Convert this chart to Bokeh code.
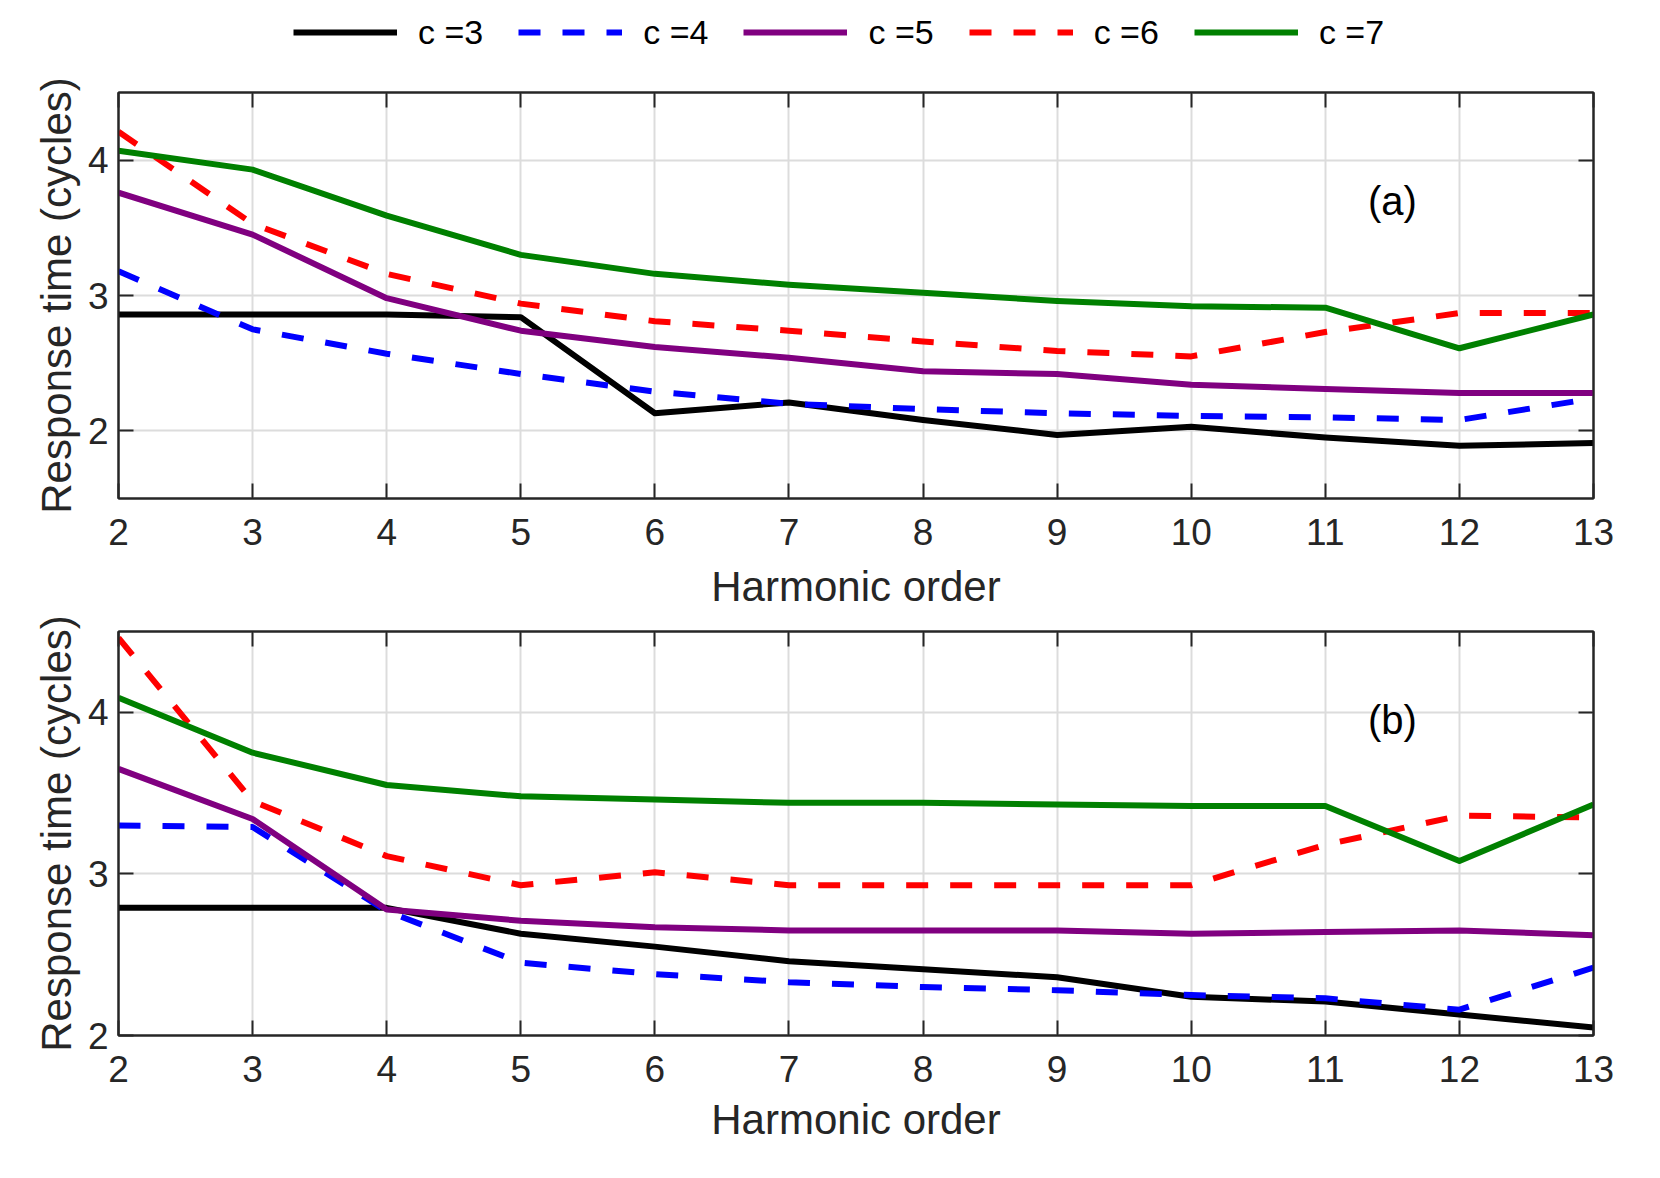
from bokeh.plotting import figure
from bokeh.models import (Range1d, FixedTicker, LinearAxis, Legend, LegendItem, Label)
from bokeh.layouts import column
from bokeh.embed import file_html
from bokeh.resources import INLINE

# ---- data ----
harmonic = [2, 3, 4, 5, 6, 7, 8, 9, 10, 11, 12, 13]
series_names = ["c =3", "c =4", "c =5", "c =6", "c =7"]

# panel (a)
c3_a = [2.86, 2.86, 2.86, 2.84, 2.13, 2.21, 2.08, 1.97, 2.03, 1.95, 1.89, 1.91]
c4_a = [3.18, 2.75, 2.57, 2.42, 2.29, 2.20, 2.16, 2.13, 2.11, 2.10, 2.08, 2.24]
c5_a = [3.76, 3.45, 2.98, 2.74, 2.62, 2.54, 2.44, 2.42, 2.34, 2.31, 2.28, 2.28]
c6_a = [4.21, 3.53, 3.16, 2.94, 2.81, 2.74, 2.66, 2.59, 2.55, 2.73, 2.87, 2.87]
c7_a = [4.07, 3.93, 3.59, 3.30, 3.16, 3.08, 3.02, 2.96, 2.92, 2.91, 2.61, 2.86]

# panel (b)
c3_b = [2.79, 2.79, 2.79, 2.63, 2.55, 2.46, 2.41, 2.36, 2.24, 2.21, 2.13, 2.05]
c4_b = [3.30, 3.29, 2.77, 2.45, 2.38, 2.33, 2.30, 2.28, 2.25, 2.23, 2.16, 2.42]
c5_b = [3.65, 3.34, 2.78, 2.71, 2.67, 2.65, 2.65, 2.65, 2.63, 2.64, 2.65, 2.62]
c6_b = [4.46, 3.45, 3.11, 2.93, 3.01, 2.93, 2.93, 2.93, 2.93, 3.18, 3.36, 3.35]
c7_b = [4.09, 3.75, 3.55, 3.48, 3.46, 3.44, 3.44, 3.43, 3.42, 3.42, 3.08, 3.43]

y_ticks = [2, 3, 4]
x_title = "Harmonic order"
y_title = "Response time (cycles)"

# ---- styles ----
colors = ["#000000", "#0000ff", "#800080", "#ff0000", "#008000"]
dashes = ["solid", "22 22", "solid", "22 22", "solid"]
FONT = "Liberation Sans"
TXT = "#262626"
W = 1650


def style_axis(ax, show_labels=True):
    ax.axis_line_color = TXT
    ax.axis_line_width = 2
    ax.major_tick_line_color = TXT
    ax.major_tick_line_width = 2
    ax.major_tick_in = 15
    ax.major_tick_out = 0
    ax.minor_tick_line_color = None
    ax.major_label_text_font = FONT
    ax.axis_label_text_font = FONT
    ax.axis_label_text_color = TXT
    ax.axis_label_text_font_style = "normal"
    ax.axis_label_text_font_size = "42px"
    if show_labels:
        ax.major_label_text_font_size = "37px"
        ax.major_label_text_color = TXT
    else:
        ax.major_label_text_font_size = "2px"
        ax.major_label_text_color = None
        ax.major_label_standoff = 0


def make_panel(series, y_lo, tag, tag_y, height, top_border, bottom_border,
               bottom_title, top_title):
    p = figure(width=W, height=height, output_backend="svg",
               toolbar_location=None,
               x_range=Range1d(2, 13), y_range=Range1d(y_lo, 4.5),
               min_border_left=118, min_border_right=57,
               min_border_top=top_border, min_border_bottom=bottom_border)
    p.background_fill_color = "white"
    p.border_fill_color = "white"
    p.outline_line_color = TXT
    p.outline_line_width = 2

    xt = FixedTicker(ticks=harmonic, minor_ticks=[])
    yt = FixedTicker(ticks=y_ticks, minor_ticks=[])
    p.xaxis.ticker = xt
    p.yaxis.ticker = yt
    if bottom_title:
        p.xaxis.axis_label = x_title
    p.yaxis.axis_label = y_title
    for ax in p.xaxis:
        style_axis(ax)
        ax.major_label_standoff = 20
        ax.axis_label_standoff = 11
    for ax in p.yaxis:
        style_axis(ax)
        ax.major_label_standoff = 10
        ax.axis_label_standoff = 5

    top_ax = LinearAxis(ticker=FixedTicker(ticks=harmonic, minor_ticks=[]))
    style_axis(top_ax, show_labels=False)
    if top_title:
        # x-axis title of the panel above, carried here so the tall y label fits
        top_ax.axis_label = x_title
        top_ax.axis_label_standoff = 22
    p.add_layout(top_ax, "above")
    right_ax = LinearAxis(ticker=FixedTicker(ticks=y_ticks, minor_ticks=[]))
    style_axis(right_ax, show_labels=False)
    p.add_layout(right_ax, "right")

    p.xgrid.ticker = xt
    p.ygrid.ticker = yt
    p.xgrid.grid_line_color = "#dcdcdc"
    p.ygrid.grid_line_color = "#dcdcdc"
    p.xgrid.grid_line_width = 2
    p.ygrid.grid_line_width = 2

    for vals, col, dash in zip(series, colors, dashes):
        p.line(harmonic, vals, line_color=col, line_width=6,
               line_dash=dash, line_join="round")

    p.add_layout(Label(x=11.5, y=tag_y, text=tag, text_align="center",
                       text_baseline="middle", text_font=FONT,
                       text_font_size="40px", text_color="#000000"))
    return p


series_a = [c3_a, c4_a, c5_a, c6_a, c7_a]
series_b = [c3_b, c4_b, c5_b, c6_b, c7_b]

# legend strip above panel (a): legend glyphs taken from hidden copies of the series
LEG_H = 70
p0 = figure(width=W, height=LEG_H, output_backend="svg", toolbar_location=None,
            x_axis_type=None, y_axis_type=None,
            min_border_left=0, min_border_right=0, min_border_top=0, min_border_bottom=0)
p0.outline_line_color = None
p0.background_fill_color = "white"
p0.border_fill_color = "white"
leg_renderers = []
for vals, col, dash in zip(series_a, colors, dashes):
    r = p0.line(harmonic, vals, line_color=col, line_width=6, line_dash=dash)
    r.visible = False
    leg_renderers.append(r)

legend = Legend(items=[LegendItem(label=n, renderers=[r]) for n, r in zip(series_names, leg_renderers)],
                orientation="horizontal", location=(175, 18),
                border_line_color=None, background_fill_alpha=0,
                padding=5, margin=0, spacing=35,
                glyph_width=104, glyph_height=40, label_height=40,
                label_standoff=21, label_text_font=FONT,
                label_text_font_size="34px", label_text_color="#000000")
p0.add_layout(legend, "center")

# panel (a): frame 92..498 ; panel (b): frame 629..1035
p1 = make_panel(series_a, 1.5, "(a)", 3.7, 559 - LEG_H, 92 - LEG_H, 61, False, False)
p2 = make_panel(series_b, 2.0, "(b)", 3.95, 1155 - 559, 70, 120, True, True)

layout = column(p0, p1, p2)
open("out.html", "w").write(file_html(layout, INLINE))
